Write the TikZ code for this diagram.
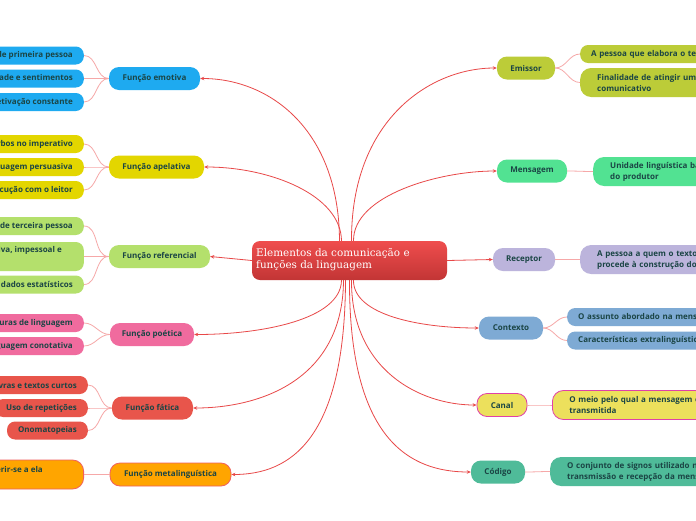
\documentclass[tikz,border=0pt]{standalone}
\usepackage{fontspec}
\setmainfont{Open Sans}
\newfontfamily\rootfont{DejaVu Serif}
\usetikzlibrary{arrows.meta,calc}
\definecolor{txt}{HTML}{1B4545}
\definecolor{conn}{HTML}{E84848}
\definecolor{sub}{HTML}{F6A8A8}
\definecolor{cEmo}{HTML}{1EAAF0}
\definecolor{cApe}{HTML}{E3D600}
\definecolor{cRef}{HTML}{B4E06C}
\definecolor{cPoe}{HTML}{F06B9E}
\definecolor{cFat}{HTML}{E8554B}
\definecolor{cMet}{HTML}{FFA500}
\definecolor{cMetB}{HTML}{F06060}
\definecolor{cEmi}{HTML}{BCCC38}
\definecolor{cMen}{HTML}{52E292}
\definecolor{cRec}{HTML}{BCB4DC}
\definecolor{cCon}{HTML}{7EAAD4}
\definecolor{cCan}{HTML}{ECE05C}
\definecolor{cCanB}{HTML}{E040A8}
\definecolor{cCod}{HTML}{4FBB99}
\definecolor{rootT}{HTML}{EF4D4D}
\definecolor{rootB}{HTML}{C23535}
\tikzset{
  mainbox/.style={rounded corners=10pt, minimum height=23pt, inner sep=0pt,
    font=\bfseries\fontsize{8}{10}\selectfont, text=txt},
  leaf/.style={rounded corners=8pt, minimum height=18pt, inner xsep=11pt, inner ysep=0pt,
    font=\bfseries\fontsize{8}{10}\selectfont, text=txt},
  leafm/.style={rounded corners=11pt, minimum height=29pt, inner xsep=17pt, inner ysep=0pt,
    font=\bfseries\fontsize{8}{11}\selectfont, text=txt, align=left, minimum width=200pt, text width=180pt},
  ltext/.style={inner sep=0pt, font=\bfseries\fontsize{8}{10}\selectfont, text=txt},
  link/.style={draw=conn, line width=0.8pt, -{Stealth[length=4pt,width=3.5pt]}},
  sublink/.style={draw=sub, line width=0.8pt},
}
\begin{document}
\begin{tikzpicture}[x=1pt,y=-1pt]
\useasboundingbox (0,0) rectangle (696,520);
\clip (0,0) rectangle (696,520);
\fill[white] (0,0) rectangle (696,520);

% root
\node[rounded corners=8pt, top color=rootT, bottom color=rootB, minimum width=195pt, minimum height=39pt,
  inner sep=0pt] (root) at (349.5,260.5) {};
\node[anchor=west, align=left, text=white, inner sep=0pt, font=\rootfont\fontsize{10.4}{12.5}\selectfont]
  (roottext) at (256,259.5) {Elementos da comunicação e\\funções da linguagem};

% left main nodes
\node[mainbox, fill=cEmo, minimum width=91pt] (emo) at (154.5,78.5) {Função emotiva};
\node[mainbox, fill=cApe, minimum width=95pt] (ape) at (156.5,167) {Função apelativa};
\node[mainbox, fill=cRef, minimum width=101pt] (ref) at (159.5,256.5) {Função referencial};
\node[mainbox, fill=cPoe, minimum width=84pt] (poe) at (152,334.5) {Função poética};
\node[mainbox, fill=cFat, minimum width=81pt] (fat) at (152.5,408) {Função fática};
\node[mainbox, fill=cMet, draw=cMetB, line width=0.8pt, minimum width=121pt] (met) at (170.5,474.5) {Função metalinguística};

% right main nodes
\node[mainbox, fill=cEmi, minimum width=58pt] (emi) at (526,68) {Emissor};
\node[mainbox, fill=cMen, minimum width=70pt] (men) at (532,171) {Mensagem};
\node[mainbox, fill=cRec, minimum width=62pt] (rec) at (524,259.5) {Receptor};
\node[mainbox, fill=cCon, minimum width=64pt] (con) at (511,328) {Contexto};
\node[mainbox, fill=cCan, draw=cCanB, line width=0.8pt, minimum width=50pt] (can) at (502,405) {Canal};
\node[mainbox, fill=cCod, minimum width=54pt] (cod) at (498,472) {Código};

% left leaves
\node[leaf, fill=cEmo, anchor=east] (e1) at (84,55.5) {Verbos de primeira pessoa};
\node[leaf, fill=cEmo, anchor=east] (e2) at (84,78.5) {Subjetividade e sentimentos};
\node[leaf, fill=cEmo, anchor=east] (e3) at (84,102) {Adjetivação constante};
\node[leaf, fill=cApe, anchor=east] (a1) at (84,144) {Verbos no imperativo};
\node[leaf, fill=cApe, anchor=east] (a2) at (84,167) {Linguagem persuasiva};
\node[leaf, fill=cApe, anchor=east] (a3) at (84,190) {Interlocução com o leitor};
\node[leaf, fill=cRef, anchor=east] (r1) at (84,226) {Verbos de terceira pessoa};
\node[leaf, fill=cRef, anchor=east, minimum width=170pt, minimum height=29pt] (r2) at (84,256.5) {};
\node[ltext, anchor=east] (r2t) at (62,250) {Linguagem objetiva, impessoal e};
\node[leaf, fill=cRef, anchor=east] (r3) at (84,284.5) {Uso de dados estatísticos};
\node[leaf, fill=cPoe, anchor=east] (p1) at (84,323) {Figuras de linguagem};
\node[leaf, fill=cPoe, anchor=east] (p2) at (84,346) {Linguagem conotativa};
\node[leaf, fill=cFat, anchor=east] (f1) at (88,385) {Palavras e textos curtos};
\node[leaf, fill=cFat, anchor=east] (f2) at (88,408) {Uso de repetições};
\node[leaf, fill=cFat, anchor=east] (f3) at (88,430.5) {Onomatopeias};
\node[leaf, fill=cMet, draw=cMetB, line width=0.8pt, anchor=east, rounded corners=11pt,
  minimum width=170pt, minimum height=29pt] (m1) at (84,474.5) {};
\node[ltext, anchor=east] (m1t) at (43,469) {referir-se a ela};

% right leaves
\node[leaf, fill=cEmi, anchor=west, minimum width=200pt, align=left, text width=178pt] (em1) at (580,54) {A pessoa que elabora o texto};
\node[leafm, fill=cEmi, anchor=west] (em2) at (580,82.5) {Finalidade de atingir um objetivo\\comunicativo};
\node[leafm, fill=cMen, anchor=west] (me1) at (593,171.5) {Unidade linguística básica\\do produtor};
\node[leafm, fill=cRec, anchor=west] (re1) at (580,259.5) {A pessoa a quem o texto é dirigido\\procede à construção dos sentidos};
\node[leaf, fill=cCon, anchor=west, minimum width=200pt, align=left, text width=178pt] (co1) at (567,317) {O assunto abordado na mensagem};
\node[leaf, fill=cCon, anchor=west, minimum width=200pt, align=left, text width=178pt] (co2) at (567,340.5) {Características extralinguísticas};
\node[leafm, fill=cCan, draw=cCanB, line width=0.8pt, anchor=west] (ca1) at (552,405) {O meio pelo qual a mensagem é\\transmitida};
\node[leafm, fill=cCod, anchor=west] (cd1) at (550,471.5) {O conjunto de signos utilizado na\\transmissão e recepção da mensagem};

% root connectors
\coordinate (tL1) at ($(root.north)+(-10,0)$);
\coordinate (tL2) at ($(root.north)+(-8,0)$);
\coordinate (bL1) at ($(root.south)+(-8,0)$);
\coordinate (bL2) at ($(root.south)+(-6,0)$);
\coordinate (bL3) at ($(root.south)+(-4,0)$);
\coordinate (tR1) at ($(root.north)+(2,0)$);
\coordinate (tR2) at ($(root.north)+(4,0)$);
\coordinate (bR1) at ($(root.south)+(4,0)$);
\coordinate (bR2) at ($(root.south)+(2,0)$);
\coordinate (bR3) at ($(root.south)+(0,0)$);
\draw[link] (tL1) .. controls (339,130) and (270,78.5) .. (emo.east);
\draw[link] (tL2) .. controls (341,195) and (270,167) .. (ape.east);
\draw[link] (root.west) -- (ref.east);
\draw[link] (bL1) .. controls (341,320) and (260,334.5) .. (poe.east);
\draw[link] (bL2) .. controls (343,380) and (260,408) .. (fat.east);
\draw[link] (bL3) .. controls (345,440) and (290,474.5) .. (met.east);
\draw[link] (tR1) .. controls (351,120) and (430,68) .. (emi.west);
\draw[link] (tR2) .. controls (353,195) and (440,171) .. (men.west);
\draw[link] (root.east) -- (rec.west);
\draw[link] (bR1) .. controls (353,315) and (420,328) .. (con.west);
\draw[link] (bR2) .. controls (351,370) and (420,405) .. (can.west);
\draw[link] (bR3) .. controls (349,440) and (410,472) .. (cod.west);

% sub connectors
\foreach \p/\c in {emo/e1,emo/e2,emo/e3,ape/a1,ape/a2,ape/a3,ref/r1,ref/r2,ref/r3,poe/p1,poe/p2,fat/f1,fat/f2,fat/f3,met/m1}
  \draw[sublink] (\p.west) to[out=180,in=0] (\c.east);
\foreach \p/\c in {emi/em1,emi/em2,men/me1,rec/re1,con/co1,con/co2,can/ca1,cod/cd1}
  \draw[sublink] (\p.east) to[out=0,in=180] (\c.west);
\end{tikzpicture}
\end{document}
